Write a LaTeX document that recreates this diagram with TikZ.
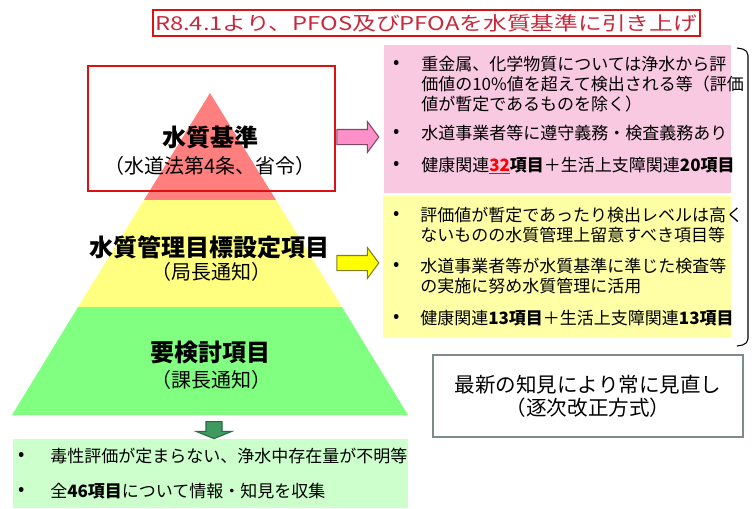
\documentclass[tikz,border=0pt]{standalone}
\usepackage{fontspec}
\usepackage{graphicx}
\setmainfont{Noto Sans CJK JP}
\usetikzlibrary{shapes.arrows}
\definecolor{tierred}{HTML}{FF7F7F}
\definecolor{tieryellow}{HTML}{FFFF80}
\definecolor{tiergreen}{HTML}{80FF80}
\definecolor{notepink}{HTML}{F9C8E1}
\definecolor{noteyellow}{HTML}{FFFFA6}
\definecolor{notegreen}{HTML}{CCFFCC}
\definecolor{framered}{HTML}{DD1111}
\definecolor{titlered}{HTML}{C8283C}
\definecolor{arrpink}{HTML}{FF8FC8}
\definecolor{arrpinkline}{HTML}{7A4A66}
\definecolor{arryellow}{HTML}{FFFF00}
\definecolor{arryellowline}{HTML}{7F7F1F}
\definecolor{arrgreen}{HTML}{3E9A5E}
\definecolor{arrgreenline}{HTML}{2C6A44}
\definecolor{boxgray}{HTML}{7F8A8A}
\tikzset{
  x=0.75pt, y=-0.75pt,
  tiername/.style={font=\fontsize{18}{20}\selectfont\bfseries, inner sep=0pt},
  tiernote/.style={font=\fontsize{15}{17}\selectfont, inner sep=0pt},
  noteline/.style={font=\fontsize{12.75}{15}\selectfont, align=left,
    anchor=north west, inner sep=0pt},
  bulletmark/.style={font=\fontsize{14}{16}\selectfont, inner sep=0pt},
  panel/.style={fill=#1, draw=none},
  blockarr/.style={single arrow, fill=arr#1, draw=arr#1line, line width=0.8pt,
    inner sep=0pt, inner ysep=5.25pt, single arrow head extend=6pt,
    single arrow tip angle=107, minimum height=31.5pt},
  stdframe/.style={draw=framered, line width=1.5pt}
}
\begin{document}
\begin{tikzpicture}
  \useasboundingbox (0,0) rectangle (752,508);
  % title
  \draw[stdframe] (153,10) rectangle (700,36);
  \node[inner sep=0pt, text=titlered, font=\fontsize{14.25}{16}\selectfont]
    (ttl) at (426,23) {\scalebox{1.25}[1]{R8.4.1より、PFOS及びPFOAを水質基準に引き上げ}};
  % pyramid
  \fill[tierred] (210,93) -- (276,200) -- (144,200) -- cycle;
  \fill[tieryellow] (144,200) -- (276,200) -- (342,307) -- (78,307) -- cycle;
  \fill[tiergreen] (78,307) -- (342,307) -- (408,415) -- (12,415) -- cycle;
  \draw[stdframe] (88,66) rectangle (335,191);
  \node[tiername] (std) at (210,137) {水質基準};
  \node[tiernote] (stdlaw) at (210,166) {（水道法第4条、省令）};
  \node[tiername] (mgt) at (209,247) {水質管理目標設定項目};
  \node[tiernote] (mgtlaw) at (211,272) {（局長通知）};
  \node[tiername] (rev) at (210,352) {要検討項目};
  \node[tiernote] (revlaw) at (211,380) {（課長通知）};
  % notes
  \fill[panel=notepink] (384,45) rectangle (731,193);
  \fill[panel=noteyellow] (383,196) rectangle (731,338);
  \fill[panel=notegreen] (13,439) rectangle (408,508);
  \node[blockarr=pink] (parr) at (355,137) {};
  \node[blockarr=yellow] (yarr) at (355,263) {};
  \node[single arrow, fill=arrgreen, draw=arrgreenline, line width=0.8pt,
    inner sep=0pt, inner ysep=5.6pt, single arrow head extend=7.5pt,
    single arrow tip angle=136, minimum height=12.75pt, rotate=-90]
    (garr) at (214,428.5) {};
  \foreach \y in {64,133,165,215,266,318} {\node[bulletmark] (b\y) at (397,\y) {•};}
  \foreach \y in {456,491} {\node[bulletmark] (b\y) at (22,\y) {•};}
  \node[noteline] (p1) at (421,55.5) {重金属、化学物質については浄水から評\\価値の10\%値を超えて検出される等（評価\\値が暫定であるものを除く）};
  \node[noteline] (p2) at (421,124.5) {水道事業者等に遵守義務・検査義務あり};
  \node[noteline] (p3) at (421,156.5) {健康関連\textcolor{red}{\textbf{\underline{32}}}\textbf{項目}＋生活上支障関連\textbf{20項目}};
  \node[noteline] (y1) at (420,206.5) {評価値が暫定であったり検出レベルは高く\\ないものの水質管理上留意すべき項目等};
  \node[noteline] (y2) at (420,257.5) {水道事業者等が水質基準に準じた検査等\\の実施に努め水質管理に活用};
  \node[noteline] (y3) at (420,309.5) {健康関連\textbf{13項目}＋生活上支障関連\textbf{13項目}};
  \node[noteline] (g1) at (50,447.5) {毒性評価が定まらない、浄水中存在量が不明等};
  \node[noteline] (g2) at (50,482.5) {全\textbf{46項目}について情報・知見を収集};
  % bracket
  \draw[line width=0.8pt, rounded corners=4pt] (737,48) -- (748,50) -- (748,344) -- (737,346);
  % review box
  \node[draw=boxgray, line width=0.8pt, minimum width=232.5pt, minimum height=61.5pt,
    align=center, font=\fontsize{15.4}{17.25}\selectfont] (cyc) at (588,396)
    {最新の知見により常に見直し\\（逐次改正方式）};
\end{tikzpicture}
\end{document}
